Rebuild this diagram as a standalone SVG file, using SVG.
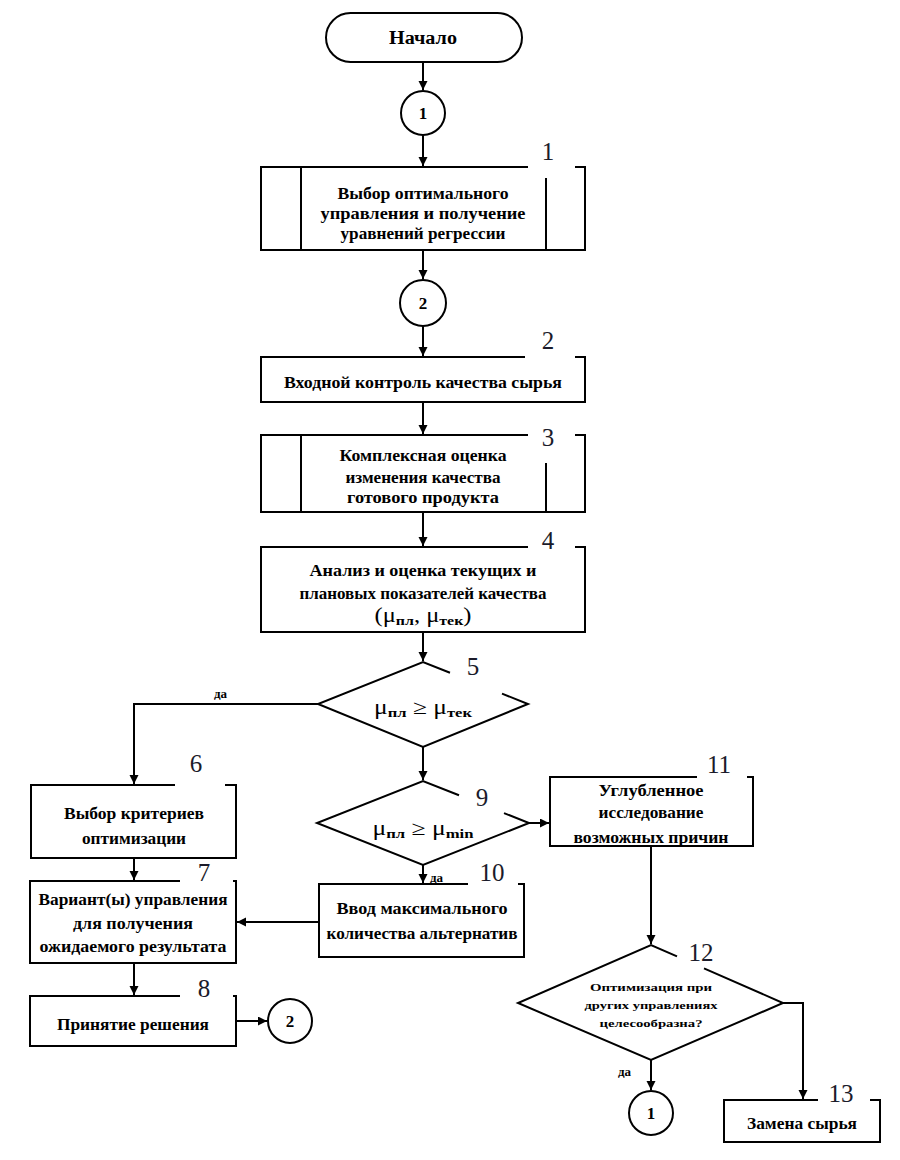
<svg xmlns="http://www.w3.org/2000/svg" width="900" height="1160" viewBox="0 0 900 1160" font-family="Liberation Serif, serif">
<style>
.sh{fill:none;stroke:#000;stroke-width:2}
text{font-family:'Liberation Serif','Times New Roman',serif;fill:#000}
.t{font-size:17px;font-weight:bold;text-anchor:middle}
.n{font-size:25px;text-anchor:middle;fill:#1b1b2a}
.s{font-size:10px;font-weight:bold;text-anchor:middle}
.da{font-size:13px;font-weight:bold}
.sub{font-size:13px;font-weight:bold}
.m{font-size:20px;font-weight:normal;text-anchor:middle}
.c{fill:none;stroke:#000;stroke-width:2}
</style>
<defs>
<marker id="ah" markerUnits="userSpaceOnUse" markerWidth="10" markerHeight="10" refX="9" refY="4.5" orient="auto">
<path d="M0,0 L9,4.5 L0,9 z" fill="#000"/>
</marker>
</defs>
<rect x="0" y="0" width="900" height="1160" fill="#fff"/>

<g id="connectors">
<path class="c" d="M423,62 V90" marker-end="url(#ah)"/>
<path class="c" d="M423,135 V166" marker-end="url(#ah)"/>
<path class="c" d="M423,250 V279" marker-end="url(#ah)"/>
<path class="c" d="M423,326 V356" marker-end="url(#ah)"/>
<path class="c" d="M423,402 V434" marker-end="url(#ah)"/>
<path class="c" d="M423,512 V546" marker-end="url(#ah)"/>
<path class="c" d="M423,632 V661" marker-end="url(#ah)"/>
<path class="c" d="M318,704 H134 V784" marker-end="url(#ah)"/>
<path class="c" d="M423,747 V780" marker-end="url(#ah)"/>
<path class="c" d="M529,823 H549" marker-end="url(#ah)"/>
<path class="c" d="M423,865 V883" marker-end="url(#ah)"/>
<path class="c" d="M319,922 H237" marker-end="url(#ah)"/>
<path class="c" d="M134,858 V880" marker-end="url(#ah)"/>
<path class="c" d="M134,963 V995" marker-end="url(#ah)"/>
<path class="c" d="M236,1021 H267" marker-end="url(#ah)"/>
<path class="c" d="M651,846 V944" marker-end="url(#ah)"/>
<path class="c" d="M783,1003 H803 V1099" marker-end="url(#ah)"/>
<path class="c" d="M651,1060 V1090" marker-end="url(#ah)"/>
<text class="da" x="214" y="698">да</text>
<text class="da" x="430" y="882">да</text>
<text class="da" x="618" y="1076">да</text>
</g>

<g id="start">
<rect class="sh" x="326" y="13" width="196" height="49" rx="24.5" ry="24.5"/>
<text class="t" x="423" y="44" style="font-size:18px" textLength="68" lengthAdjust="spacingAndGlyphs">Начало</text>
</g>

<g id="conn1-top">
<circle class="sh" cx="423" cy="113" r="22"/>
<text class="t" x="423" y="119">1</text>
</g>

<g id="node1">
<path class="sh" d="M528,167 H261 V250 H585 V167 H575"/>
<path class="sh" d="M301,167 V250 M546,178 V250"/>
<text class="n" x="548" y="160">1</text>
<text class="t" x="423" y="199" textLength="171" lengthAdjust="spacingAndGlyphs">Выбор оптимального</text>
<text class="t" x="423" y="219" textLength="205" lengthAdjust="spacingAndGlyphs">управления и получение</text>
<text class="t" x="423" y="239" textLength="165" lengthAdjust="spacingAndGlyphs">уравнений регрессии</text>
</g>

<g id="conn2-top">
<circle class="sh" cx="423" cy="303" r="23"/>
<text class="t" x="423" y="309">2</text>
</g>

<g id="node2">
<path class="sh" d="M525,357 H261 V402 H585 V357 H575"/>
<text class="n" x="548" y="349">2</text>
<text class="t" x="423" y="388" textLength="278" lengthAdjust="spacingAndGlyphs">Входной контроль качества сырья</text>
</g>

<g id="node3">
<path class="sh" d="M528,435 H261 V512 H585 V435 H575"/>
<path class="sh" d="M301,435 V512 M546,463 V512"/>
<text class="n" x="548" y="446">3</text>
<text class="t" x="423" y="461" textLength="167" lengthAdjust="spacingAndGlyphs">Комплексная оценка</text>
<text class="t" x="423" y="483" textLength="155" lengthAdjust="spacingAndGlyphs">изменения качества</text>
<text class="t" x="423" y="503" textLength="152" lengthAdjust="spacingAndGlyphs">готового продукта</text>
</g>

<g id="node4">
<path class="sh" d="M528,547 H261 V632 H585 V547 H575"/>
<text class="n" x="548" y="549">4</text>
<text class="t" x="423" y="576" textLength="227" lengthAdjust="spacingAndGlyphs">Анализ и оценка текущих и</text>
<text class="t" x="423" y="599" textLength="247" lengthAdjust="spacingAndGlyphs">плановых показателей качества</text>
<text class="m" x="423" y="622" textLength="97" lengthAdjust="spacingAndGlyphs">(μ<tspan class="sub" dy="3">пл</tspan><tspan dy="-3">, μ</tspan><tspan class="sub" dy="3">тек</tspan><tspan dy="-3">)</tspan></text>
</g>

<g id="node5">
<path class="sh" d="M450,672.8 L423,662 L318,704 L423,747 L528,704 L502,693.6"/>
<text class="n" x="473" y="675">5</text>
<text class="m" x="423" y="714" textLength="98" lengthAdjust="spacingAndGlyphs">μ<tspan class="sub" dy="3">пл</tspan><tspan dy="-3"> ≥ μ</tspan><tspan class="sub" dy="3">тек</tspan></text>
</g>

<g id="node6">
<path class="sh" d="M175,785 H31 V858 H236 V785 H225"/>
<text class="n" x="196" y="772">6</text>
<text class="t" x="134" y="819" textLength="140" lengthAdjust="spacingAndGlyphs">Выбор критериев</text>
<text class="t" x="134" y="844" textLength="104" lengthAdjust="spacingAndGlyphs">оптимизации</text>
</g>

<g id="node7">
<path class="sh" d="M180,881 H30 V963 H236 V881 H233"/>
<text class="n" x="204" y="881">7</text>
<text class="t" x="133" y="905" textLength="189" lengthAdjust="spacingAndGlyphs">Вариант(ы) управления</text>
<text class="t" x="133" y="929" textLength="120" lengthAdjust="spacingAndGlyphs">для получения</text>
<text class="t" x="133" y="952" textLength="187" lengthAdjust="spacingAndGlyphs">ожидаемого результата</text>
</g>

<g id="node8">
<path class="sh" d="M180,996 H30 V1046 H236 V996 H233"/>
<text class="n" x="204" y="997">8</text>
<text class="t" x="133" y="1030" textLength="152" lengthAdjust="spacingAndGlyphs">Принятие решения</text>
</g>

<g id="conn2-bottom">
<circle class="sh" cx="290" cy="1021" r="22"/>
<text class="t" x="290" y="1027">2</text>
</g>

<g id="node9">
<path class="sh" d="M459,795.3 L423,781 L317,823 L423,865 L529,823 L504,813.1"/>
<text class="n" x="482" y="806">9</text>
<text class="m" x="423" y="835" textLength="101" lengthAdjust="spacingAndGlyphs">μ<tspan class="sub" dy="3">пл</tspan><tspan dy="-3"> ≥ μ</tspan><tspan class="sub" dy="3">min</tspan></text>
</g>

<g id="node10">
<path class="sh" d="M468,884 H319 V957 H524 V884 H518"/>
<text class="n" x="492" y="881">10</text>
<text class="t" x="422" y="914" textLength="171" lengthAdjust="spacingAndGlyphs">Ввод максимального</text>
<text class="t" x="422" y="939" textLength="191" lengthAdjust="spacingAndGlyphs">количества альтернатив</text>
</g>

<g id="node11">
<path class="sh" d="M697,777 H550 V846 H753 V777 H747"/>
<text class="n" x="719" y="773">11</text>
<text class="t" x="651" y="796" textLength="105" lengthAdjust="spacingAndGlyphs">Углубленное</text>
<text class="t" x="651" y="818" textLength="105" lengthAdjust="spacingAndGlyphs">исследование</text>
<text class="t" x="651" y="843" textLength="155" lengthAdjust="spacingAndGlyphs">возможных причин</text>
</g>

<g id="node12">
<path class="sh" d="M677,956.4 L651,945 L518,1003 L651,1060 L783,1003 L704,968.3"/>
<text class="n" x="701" y="961">12</text>
<text class="s" x="651" y="991" textLength="122" lengthAdjust="spacingAndGlyphs">Оптимизация при</text>
<text class="s" x="651" y="1009" textLength="133" lengthAdjust="spacingAndGlyphs">других управлениях</text>
<text class="s" x="651" y="1027" textLength="103" lengthAdjust="spacingAndGlyphs">целесообразна?</text>
</g>

<g id="conn1-bottom">
<circle class="sh" cx="651" cy="1113" r="22"/>
<text class="t" x="651" y="1119">1</text>
</g>

<g id="node13">
<path class="sh" d="M818,1100 H724 V1142 H880 V1100 H870"/>
<text class="n" x="841" y="1102">13</text>
<text class="t" x="802" y="1129" textLength="110" lengthAdjust="spacingAndGlyphs">Замена сырья</text>
</g>
</svg>
